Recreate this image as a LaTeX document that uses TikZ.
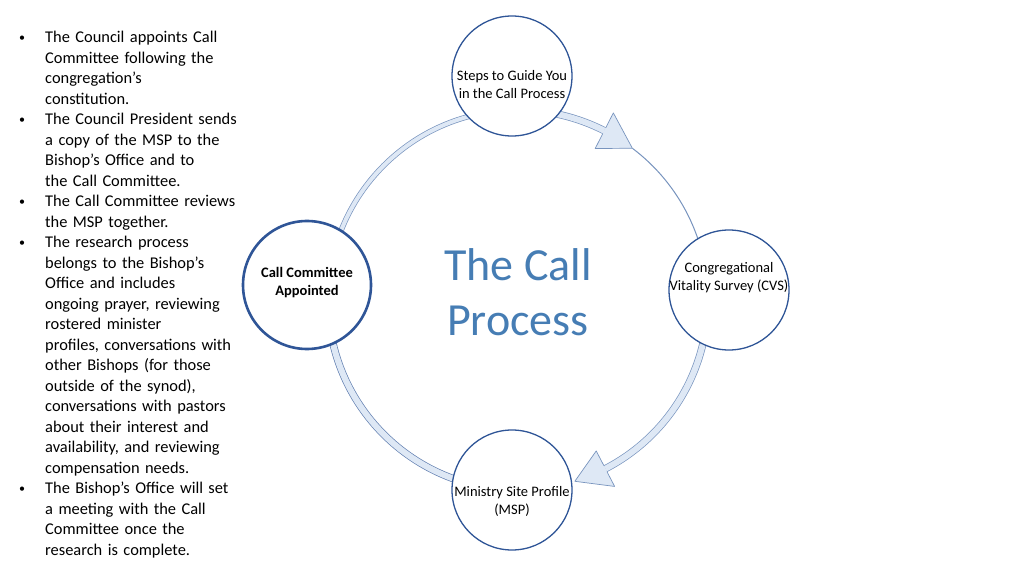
\documentclass[tikz,border=0pt]{standalone}
\usepackage{fontspec}
\setmainfont{Carlito}
\usepackage{enumitem}
\usetikzlibrary{calc,positioning}
\definecolor{ringc}{RGB}{47,85,151}
\definecolor{titlec}{RGB}{70,125,180}
\definecolor{bandc}{RGB}{222,232,245}
\definecolor{bandedge}{RGB}{120,148,190}

\begin{document}
\begin{tikzpicture}[x=1pt,y=1pt,
  stage/.style={circle, draw=ringc, line width=1.3pt, fill=white, minimum size=120pt, inner sep=0pt},
  stagetext/.style={align=center, font=\fontsize{14.5}{18}\selectfont},
  band/.style={draw=bandedge, line width=0.7pt, double=bandc, double distance=6pt}]
  \useasboundingbox (0,0) rectangle (1024,576);
  \coordinate (ring) at (518,276);
  % ring of arrows, drawn before the circles
  \draw[band, double distance=4pt] (ring) ++(180:190) arc[start angle=180, end angle=90, radius=190];
  \draw[band] (ring) ++(90:190) arc[start angle=90, end angle=63, radius=190];
  \draw[bandedge, line width=1pt] (ring) ++(53:190) arc[start angle=53, end angle=0, radius=190];
  \draw[band] (ring) ++(0:190) arc[start angle=0, end angle=-62.6, radius=190];
  \draw[band, draw=ringc!75] (ring) ++(-90:190) arc[start angle=-90, end angle=-180, radius=190];
  \foreach \a/\b in {63/53, -62.6/-72.6} {
    \fill[bandc] ($(ring)+(\a:210)$) -- ($(ring)+(\b:190)$) -- ($(ring)+(\a:170)$) -- cycle;
    \draw[bandedge, line width=0.7pt, line join=round] ($(ring)+(\a:193.4)$) -- ($(ring)+(\a:210)$) -- ($(ring)+(\b:190)$) -- ($(ring)+(\a:170)$) -- ($(ring)+(\a:186.6)$);
  }
  % stages
  \node[stage] (steps) at (512,500) {};
  \node[stage] (cvs) at (729,286) {};
  \node[stage] (msp) at (512,86) {};
  \node[stage, minimum size=128pt, line width=2.6pt] (appointed) at (307,291) {};
  \node[stagetext] (steps-l) at ([yshift=-9pt]steps.center) {Steps to Guide You\\in the Call Process};
  \node[stagetext] (cvs-l) at ([yshift=12pt]cvs.center) {Congregational\\Vitality Survey (CVS)};
  \node[stagetext] (msp-l) at ([yshift=-11pt]msp.center) {Ministry Site Profile\\(MSP)};
  \node[stagetext, font=\fontsize{14.5}{18}\selectfont\bfseries] (appointed-l) at ([yshift=2pt]appointed.center) {Call Committee\\Appointed};
  \node[font=\fontsize{46}{55}\selectfont, text=titlec, align=center] (title) at (518,284) {The Call\\Process};
  % notes on the left
  \node[anchor=north west, inner sep=0pt, text width=280pt, font=\fontsize{16.4}{20.5}\selectfont] (notes) at (19,554) {%
    \begin{itemize}[label={\raisebox{1.5pt}{\fontsize{12}{12}\selectfont\textbullet}}, leftmargin=26pt, labelwidth=6pt, labelsep=20pt, align=left, itemsep=0pt, parsep=0pt, topsep=0pt, before=\raggedright]
      \item The Council appoints Call\\Committee following the\\congregation's\\constitution.
      \item The Council President sends\\a copy of the MSP to the\\Bishop’s Office and to\\the Call Committee.
      \item The Call Committee reviews\\the MSP together.
      \item The research process\\belongs to the Bishop’s\\Office and includes\\ongoing prayer, reviewing\\rostered minister\\profiles, conversations with\\other Bishops (for those\\outside of the synod),\\conversations with pastors\\about their interest and\\availability, and reviewing\\compensation needs.
      \item The Bishop's Office will set\\a meeting with the Call\\Committee once the\\research is complete.
    \end{itemize}};
\end{tikzpicture}
\end{document}
